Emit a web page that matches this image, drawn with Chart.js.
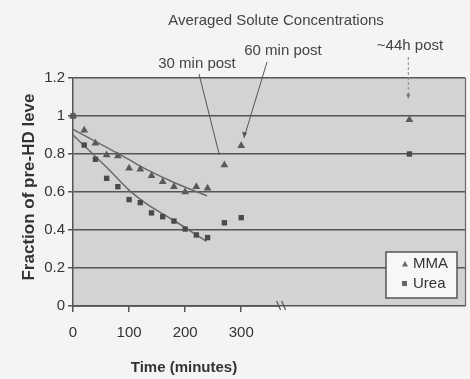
<!DOCTYPE html>
<html>
<head>
<meta charset="utf-8">
<title>Averaged Solute Concentrations</title>
<script src="https://cdn.jsdelivr.net/npm/chart.js@4/dist/chart.umd.min.js"></script>
<style>
  body { margin: 0; background: #f4f4f4; }
  canvas { display: block; }
</style>
</head>
<body>
<canvas id="chartcanvas" width="470" height="379"></canvas>
<script>
// time in minutes, 600 = the ~44h sample placed after the axis break
var mmaTime = [0, 20, 40, 60, 80, 100, 120, 140, 160, 180, 200, 220, 240, 270, 300, 600];
var mmaVal  = [1.0, 0.925, 0.856, 0.795, 0.79, 0.725, 0.72, 0.686, 0.654, 0.628, 0.60, 0.628, 0.62, 0.742, 0.844, 0.98];
var ureaTime = [0, 20, 40, 60, 80, 100, 120, 140, 160, 180, 200, 220, 240, 270, 300, 600];
var ureaVal  = [1.0, 0.847, 0.772, 0.672, 0.628, 0.56, 0.544, 0.49, 0.47, 0.447, 0.405, 0.374, 0.36, 0.438, 0.465, 0.80];

// fitted trend lines as drawn in the picture
var mmaTrendTime = [0, 60, 100, 130, 180, 239];
var mmaTrendVal  = [0.93, 0.835, 0.77, 0.72, 0.65, 0.58];
var ureaTrendTime = [0, 60, 100, 130, 180, 238];
var ureaTrendVal  = [0.90, 0.73, 0.61, 0.54, 0.45, 0.34];

var xTicks = [0, 100, 200, 300];
var yTicks = [0, 0.2, 0.4, 0.6, 0.8, 1, 1.2];
var seriesNames = ["MMA", "Urea"];

var FONT = "'Liberation Sans', Arial, sans-serif";
var INK = "#333";

function pts(xs, ys) {
	var out = [];
	for (var i in xs) {
		out.push({x: xs[i], y: ys[i]});
	}
	return out;
}

var decor = {
	id: 'decor',
	beforeDraw: function(chart) {
		var ctx = chart.ctx, a = chart.chartArea;
		ctx.save();
		ctx.fillStyle = "#f4f4f4";
		ctx.fillRect(0, 0, chart.width, chart.height);
		ctx.fillStyle = "#d3d3d3";
		ctx.fillRect(a.left, a.top, a.right - a.left, a.bottom - a.top);
		ctx.restore();
	},
	afterDraw: function(chart) {
		var ctx = chart.ctx, a = chart.chartArea;
		var xs = chart.scales.x, ys = chart.scales.y;
		ctx.save();

		// x axis line up to the break, plus the break marks
		var bx = xs.getPixelForValue(372);
		ctx.strokeStyle = "#555";
		ctx.lineWidth = 1.5;
		ctx.beginPath();
		ctx.moveTo(a.left, a.bottom);
		ctx.lineTo(bx - 2, a.bottom);
		ctx.stroke();
		ctx.lineWidth = 1.2;
		ctx.beginPath();
		ctx.moveTo(bx - 5, a.bottom - 5); ctx.lineTo(bx - 1, a.bottom + 4);
		ctx.moveTo(bx, a.bottom - 5); ctx.lineTo(bx + 4, a.bottom + 4);
		ctx.stroke();

		// right border
		ctx.strokeStyle = "#666";
		ctx.lineWidth = 1.2;
		ctx.beginPath();
		ctx.moveTo(a.right, a.top);
		ctx.lineTo(a.right, a.bottom);
		ctx.stroke();

		// title and annotations
		ctx.fillStyle = "#444";
		ctx.font = "15px " + FONT;
		ctx.textAlign = "center";
		ctx.textBaseline = "alphabetic";
		ctx.fillText("Averaged Solute Concentrations", 276, 25);
		ctx.fillText("30 min post", 197, 68);
		ctx.fillText("60 min post", 283, 55);
		ctx.fillText("~44h post", 410, 50);

		ctx.strokeStyle = "#555";
		ctx.lineWidth = 1;
		ctx.beginPath();
		ctx.moveTo(199, 74);
		ctx.lineTo(xs.getPixelForValue(261), ys.getPixelForValue(0.795));
		ctx.stroke();

		var ex = xs.getPixelForValue(305), ey = ys.getPixelForValue(0.885);
		ctx.beginPath();
		ctx.moveTo(267, 62);
		ctx.lineTo(ex, ey);
		ctx.stroke();
		ctx.fillStyle = "#555";
		ctx.beginPath();
		ctx.moveTo(ex, ey);
		ctx.lineTo(ex - 2, ey - 6);
		ctx.lineTo(ex + 3, ey - 5);
		ctx.closePath();
		ctx.fill();

		var hx = xs.getPixelForValue(598), hy = ys.getPixelForValue(1.095);
		ctx.strokeStyle = "#888";
		ctx.setLineDash([3, 2]);
		ctx.beginPath();
		ctx.moveTo(hx, 57);
		ctx.lineTo(hx, hy);
		ctx.stroke();
		ctx.setLineDash([]);
		ctx.fillStyle = "#777";
		ctx.beginPath();
		ctx.moveTo(hx, hy + 1);
		ctx.lineTo(hx - 2, hy - 4);
		ctx.lineTo(hx + 2, hy - 4);
		ctx.closePath();
		ctx.fill();

		// axis titles
		ctx.fillStyle = INK;
		ctx.font = "bold 15px " + FONT;
		ctx.textBaseline = "middle";
		ctx.fillText("Time (minutes)", 184, 368);
		ctx.save();
		ctx.translate(29, 187);
		ctx.rotate(-Math.PI / 2);
		ctx.font = "bold 17px " + FONT;
		ctx.fillText("Fraction of pre-HD leve", 0, 0);
		ctx.restore();

		// legend box inside the plot
		var lx = 386, ly = 252, lw = 71, lh = 46;
		ctx.fillStyle = "#f7f7f7";
		ctx.fillRect(lx, ly, lw, lh);
		ctx.strokeStyle = "#555";
		ctx.lineWidth = 1.5;
		ctx.strokeRect(lx, ly, lw, lh);
		ctx.font = "15px " + FONT;
		ctx.textAlign = "left";
		ctx.textBaseline = "middle";
		ctx.fillStyle = INK;
		ctx.fillText(chart.data.datasets[0].label, 413, 264);
		ctx.fillText(chart.data.datasets[1].label, 413, 284);
		ctx.fillStyle = "#666";
		ctx.beginPath();
		ctx.moveTo(405, 261); ctx.lineTo(408, 266.5); ctx.lineTo(402, 266.5);
		ctx.closePath();
		ctx.fill();
		ctx.fillRect(402, 281, 5, 5);

		ctx.restore();
	}
};

var chartdata = {
	datasets: [
		{
			label: seriesNames[0],
			data: pts(mmaTime, mmaVal),
			pointStyle: 'triangle',
			pointRadius: 4.5,
			backgroundColor: "#5a5a5a",
			borderColor: "#5a5a5a",
			borderWidth: 0,
			clip: false
		},
		{
			label: seriesNames[1],
			data: pts(ureaTime, ureaVal),
			pointStyle: 'rect',
			pointRadius: 3.8,
			backgroundColor: "#4a4a4a",
			borderColor: "#4a4a4a",
			borderWidth: 0,
			clip: false
		},
		{
			label: "MMA trend",
			data: pts(mmaTrendTime, mmaTrendVal),
			showLine: true,
			pointRadius: 0,
			borderColor: "#6a6a6a",
			borderWidth: 1.5,
			cubicInterpolationMode: 'monotone'
		},
		{
			label: "Urea trend",
			data: pts(ureaTrendTime, ureaTrendVal),
			showLine: true,
			pointRadius: 0,
			borderColor: "#6a6a6a",
			borderWidth: 1.5,
			cubicInterpolationMode: 'monotone'
		}
	]
};

var ctx = document.getElementById("chartcanvas");

var ScatterGraph = new Chart(ctx, {
	type: 'scatter',
	data: chartdata,
	plugins: [decor],
	options: {
		responsive: false,
		animation: false,
		layout: { padding: { top: 78, right: 4, left: 0, bottom: 0 } },
		plugins: {
			legend: { display: false },
			tooltip: { enabled: false }
		},
		scales: {
			x: {
				type: 'linear',
				min: 0,
				max: 700,
				afterBuildTicks: function(scale) {
					scale.ticks = xTicks.map(function(v) { return {value: v}; });
				},
				afterFit: function(scale) { scale.height = 73; },
				ticks: {
					color: INK,
					font: { family: FONT, size: 15 },
					padding: 12,
					maxRotation: 0,
					callback: function(v) { return String(v); }
				},
				grid: {
					drawOnChartArea: false,
					drawTicks: true,
					tickLength: 6,
					color: "#555",
					lineWidth: 1.5
				},
				border: { display: false }
			},
			y: {
				min: 0,
				max: 1.2,
				afterBuildTicks: function(scale) {
					scale.ticks = yTicks.map(function(v) { return {value: v}; });
				},
				afterFit: function(scale) { scale.width = 73; },
				ticks: {
					color: INK,
					font: { family: FONT, size: 15 },
					padding: 3,
					callback: function(v) { return String(v); }
				},
				grid: {
					color: "#555",
					lineWidth: 1.5,
					tickLength: 5
				},
				border: { color: "#555", width: 1.5 }
			}
		}
	}
});
</script>
</body>
</html>
